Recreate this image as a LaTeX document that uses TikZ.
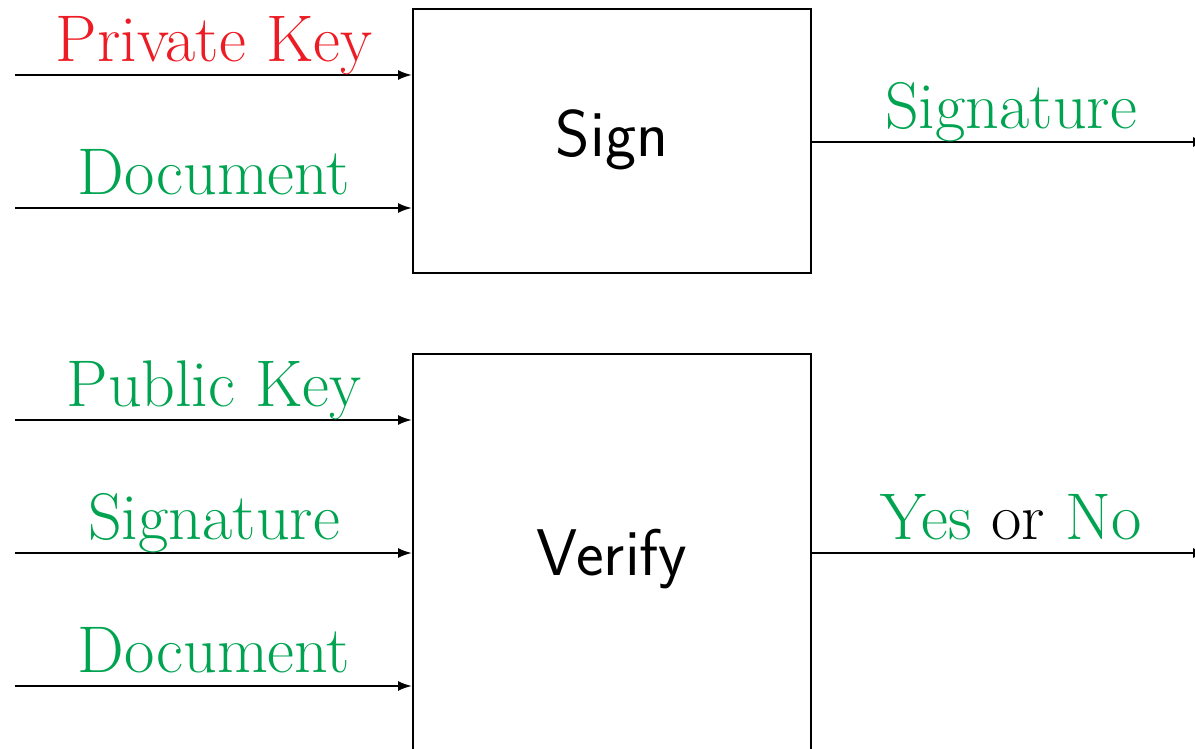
\documentclass[tikz,border=0pt]{standalone}
\usetikzlibrary{arrows.meta}
\definecolor{keyred}{RGB}{237,28,36}
\definecolor{okgreen}{RGB}{0,163,80}
\begin{document}
\begin{tikzpicture}[x=0.5pt,y=-0.5pt,
  line width=1pt,
  proc/.style={draw, line width=1pt, minimum width=199pt, inner sep=0pt},
  lbl/.style={anchor=base, inner sep=0pt, font=\rmfamily\fontsize{33}{40}\selectfont},
  flow/.style={-{Latex[length=7pt,width=5pt]}},
  word/.style={anchor=base, inner sep=0pt, font=\sffamily\fontsize{33}{40}\selectfont}]
\useasboundingbox (0,0) rectangle (1195,749);
\clip (0,0) rectangle (1195,749);

% Signing block
\node[proc, minimum height=132pt] (sign) at (612,141) {};
\node[word] (signtxt) at (612,157) {Sign};

\coordinate (pk) at (15,75);
\coordinate (doc) at (15,208);
\coordinate (sigout) at (1207,142);
\draw[flow] (pk) -- (pk -| sign.west);
\draw[flow] (doc) -- (doc -| sign.west);
\draw[flow] (sign.east |- sigout) -- (sigout);
\node[lbl, text=keyred] (pklbl) at (214,61.5) {Private Key};
\node[lbl, text=okgreen] (doclbl) at (214,194.5) {Document};
\node[lbl, text=okgreen] (siglbl) at (1011,128.5) {Signature};

% Verification block
\node[proc, minimum height=199pt] (verify) at (612,553) {};
\node[word] (vertxt) at (612,575) {Verify};

\coordinate (pub) at (15,420);
\coordinate (sig) at (15,553);
\coordinate (doc2) at (15,686);
\coordinate (resout) at (1207,553);
\draw[flow] (pub) -- (pub -| verify.west);
\draw[flow] (sig) -- (sig -| verify.west);
\draw[flow] (doc2) -- (doc2 -| verify.west);
\draw[flow] (verify.east |- resout) -- (resout);
\node[lbl, text=okgreen] (publbl) at (214,406.5) {Public Key};
\node[lbl, text=okgreen] (siglbl2) at (214,539.5) {Signature};
\node[lbl, text=okgreen] (doclbl2) at (214,672.5) {Document};
\node[lbl] (reslbl) at (1011,539.5) {\textcolor{okgreen}{Yes} or \textcolor{okgreen}{No}};
\end{tikzpicture}
\end{document}
